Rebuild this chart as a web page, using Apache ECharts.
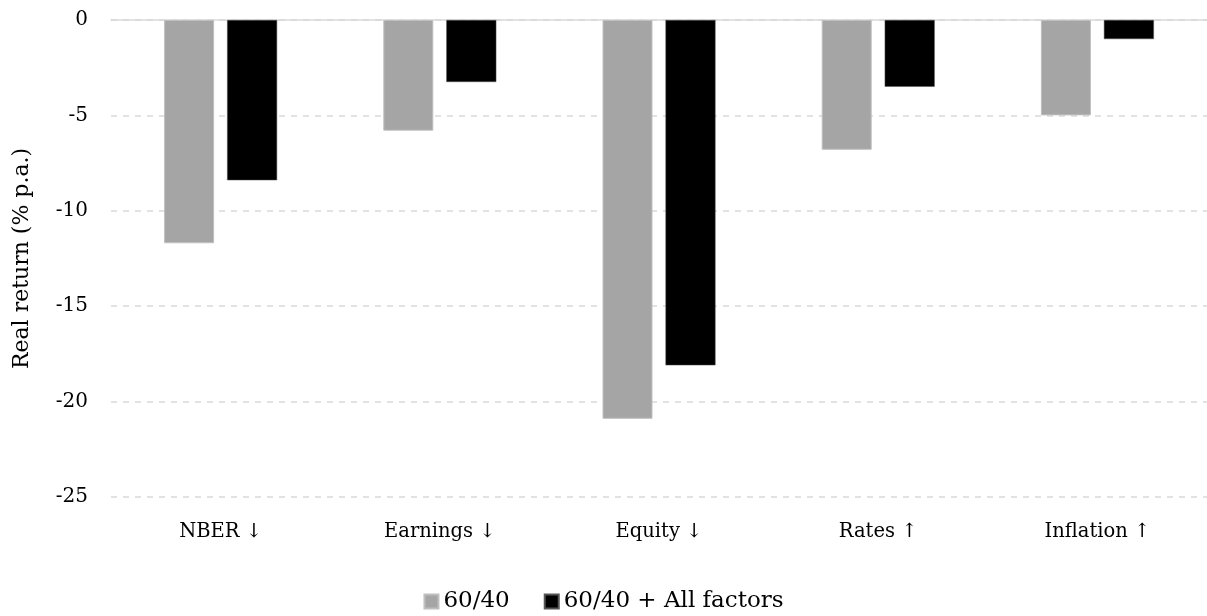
<!DOCTYPE html>
<html><head><meta charset="utf-8">
<script src="https://cdn.jsdelivr.net/npm/echarts@6/dist/echarts.min.js"></script>
<style>html,body{margin:0;padding:0;background:#fff}#c{width:1207px;height:616px}</style>
</head><body><div id="c"></div>
<script>
const categories = ['NBER ↓', 'Earnings ↓', 'Equity ↓', 'Rates ↑', 'Inflation ↑'];
const series6040 = [-11.7, -5.8, -20.9, -6.8, -5.0];
const seriesAll = [-8.4, -3.25, -18.1, -3.5, -1.0];
const font = 'DejaVu Serif';
const chart = echarts.init(document.getElementById('c'));
chart.setOption({
  animation: false,
  textStyle: { fontFamily: font },
  grid: { left: 111, right: 0, top: 20, bottom: 119 },
  legend: {
    bottom: -2, left: 'center', itemWidth: 14, itemHeight: 14, itemGap: 34,
    icon: 'rect',
    textStyle: { fontFamily: font, fontSize: 23, color: '#000' },
    data: ['60/40', '60/40 + All factors']
  },
  xAxis: [
    { type: 'category', data: categories, position: 'bottom',
      axisLine: { show: false, onZero: false }, axisTick: { show: false },
      axisLabel: { fontSize: 19.5, color: '#000', margin: 25, fontFamily: font } },
    { type: 'category', data: categories, position: 'top',
      axisLine: { show: true, onZero: false, lineStyle: { color: '#d9d9d9', width: 1.5 } },
      axisTick: { show: false }, axisLabel: { show: false } }
  ],
  yAxis: {
    type: 'value', min: -25, max: 0, interval: 5,
    name: 'Real return (% p.a.)', nameLocation: 'middle', nameGap: 78,
    nameTextStyle: { fontSize: 22, color: '#000', fontFamily: font },
    axisLine: { show: false }, axisTick: { show: false },
    axisLabel: { fontSize: 20, color: '#000', margin: 23, fontFamily: font },
    splitLine: { lineStyle: { color: '#d9d9d9', type: [6, 6], width: 1.5 } }
  },
  series: [
    { name: '60/40', type: 'bar', data: series6040, barWidth: 50, barGap: '26%',
      itemStyle: { color: '#a5a5a5', borderColor: '#bfbfbf', borderWidth: 1 } },
    { name: '60/40 + All factors', type: 'bar', data: seriesAll, barWidth: 50,
      itemStyle: { color: '#000000', borderColor: '#555', borderWidth: 0.5 } }
  ]
});
</script></body></html>
